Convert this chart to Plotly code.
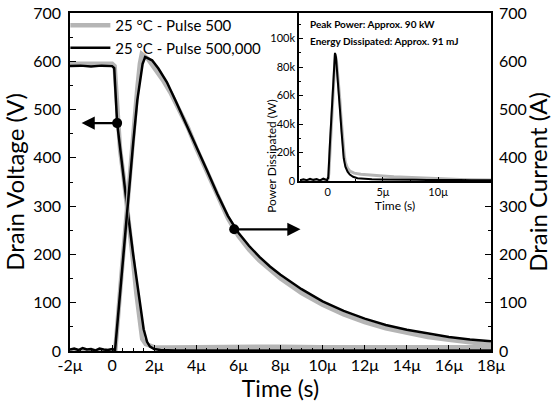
import plotly.graph_objects as go

# ---- main chart data (time in microseconds) ----
# drain voltage, pulse 500 (gray) and pulse 500,000 (black)
t_v500 = [-2.0, -1.0, 0.0, 0.12, 0.2, 0.3, 0.38, 0.55, 0.71, 0.85, 1.0, 1.15, 1.3, 1.43, 1.6, 1.8, 2.0, 2.5, 4, 6, 8, 10, 12, 14, 16, 18]
v_500 = [595, 596, 595, 590, 530, 460, 416, 360, 302, 245, 185, 120, 60, 25, 14, 10, 8, 7, 8, 8, 9, 8, 8, 9, 8, 8]

t_v500k = [-2.0, -1.5, -1.0, -0.5, 0.0, 0.1, 0.24, 0.35, 0.45, 0.71, 1.0, 1.3, 1.5, 1.66, 1.8, 2.0, 2.3, 3, 5, 8, 11, 14, 18]
v_500k = [590, 591, 589, 591, 590, 586, 472, 430, 395, 300, 200, 100, 45, 19, 9, 4, 2, 1, 1, 0, 1, 0, 1]

# drain current
t_i500 = [-2.0, 0.0, 0.15, 0.4, 0.71, 1.0, 1.2, 1.32, 1.41, 1.7, 2.0, 2.4, 2.8, 3.2, 3.6, 4.0, 4.5, 5.0, 5.5, 6.0, 6.5, 7, 8, 9, 10, 11, 12, 13, 14, 15, 16, 17, 18]
i_500 = [0, 0, 0, 135, 300, 450, 545, 595, 615, 605, 588, 562, 533, 500, 463, 420, 370, 320, 275, 238, 210, 187, 150, 120, 96, 76, 60, 47, 37, 29, 23, 18, 13]

t_i500k = [-2.0, -1.8, -1.6, -1.4, -1.2, -1.0, -0.8, -0.6, -0.4, -0.2, 0.0, 0.14, 0.45, 0.71, 1.0, 1.2, 1.35, 1.45, 1.57, 1.9, 2.2, 2.6, 3.0, 3.5, 4.0, 4.5, 5.0, 5.5, 6.0, 6.5, 7.0, 7.5, 8, 9, 10, 11, 12, 13, 14, 15, 16, 17, 18]
i_500k = [3, 5, 2, 6, 3, 4, 1, 5, 3, 2, 4, 2, 155, 290, 430, 520, 570, 595, 609, 602, 585, 557, 520, 472, 425, 375, 325, 280, 245, 218, 195, 175, 158, 128, 103, 83, 67, 54, 44, 36, 29, 24, 20]

# arrow markers: (time, value) of the dot and where the arrow points
arrow_v = dict(t=0.24, val=472, t_to=-1.45)
arrow_i = dict(t=5.8, val=252, t_to=8.95)

x_ticks = [-2, 0, 2, 4, 6, 8, 10, 12, 14, 16, 18]
x_ticktext = ["-2μ", "0", "2μ", "4μ", "6μ", "8μ", "10μ", "12μ", "14μ", "16μ", "18μ"]

# ---- inset data: power dissipated (kW) ----
t_p500 = [-2.5, 0.0, 0.1, 0.2, 0.3, 0.4, 0.5, 0.6, 0.68, 0.8, 0.9, 1.0, 1.1, 1.2, 1.3, 1.4, 1.5, 1.6, 1.8, 2.0, 2.4, 3, 4, 5, 6, 7, 8, 9, 10, 11, 12, 13, 14.8]
p_500 = [0, 0, 5, 20, 36, 52, 70, 85, 89, 84, 76, 67, 57, 45, 34, 25, 18, 13, 9, 7, 5.5, 4.8, 4, 3.5, 3, 2.6, 2.2, 1.9, 1.6, 1.3, 1.1, 0.9, 0.7]

t_p500k = [-2.5, -2.2, -1.9, -1.6, -1.3, -1.0, -0.7, -0.4, -0.1, 0.05, 0.2, 0.3, 0.4, 0.5, 0.6, 0.66, 0.75, 0.85, 0.95, 1.05, 1.15, 1.25, 1.35, 1.45, 1.6, 1.8, 2.0, 2.3, 2.7, 3.2, 4, 5, 6, 7, 8, 9, 10, 11, 12, 13, 14.8]
p_500k = [0.5, 1.2, 0.6, 1.5, 0.8, 1.3, 0.4, 1.6, 0.7, 2, 26, 42, 58, 74, 88, 90, 87, 78, 67, 57, 46, 35, 24, 16, 10, 6.5, 4.5, 3, 2, 1.6, 1.2, 1.0, 1.1, 0.8, 0.9, 0.7, 0.8, 0.6, 0.7, 0.5, 0.5]

inset_xticks = [0, 5, 10]
inset_xtext = ["0", "5μ", "10μ"]
inset_yticks = [0, 20, 40, 60, 80, 100]
inset_ytext = ["0", "20k", "40k", "60k", "80k", "100k"]

GRAY = "#b5b5b5"
FONT = "Lato"

fig = go.Figure()

# voltage (left axis)
fig.add_trace(go.Scatter(x=t_v500, y=v_500, mode="lines", line=dict(color=GRAY, width=4.5),
                         name="25 °C - Pulse 500"))
fig.add_trace(go.Scatter(x=t_v500k, y=v_500k, mode="lines", line=dict(color="black", width=2.5),
                         name="25 °C - Pulse 500,000"))
# current (right axis)
fig.add_trace(go.Scatter(x=t_i500, y=i_500, mode="lines", line=dict(color=GRAY, width=4.5),
                         yaxis="y2", showlegend=False))
fig.add_trace(go.Scatter(x=t_i500k, y=i_500k, mode="lines", line=dict(color="black", width=2.5),
                         yaxis="y2", showlegend=False))

# arrow dots
fig.add_trace(go.Scatter(x=[arrow_v["t"]], y=[arrow_v["val"]], mode="markers",
                         marker=dict(color="black", size=10), showlegend=False))
fig.add_trace(go.Scatter(x=[arrow_i["t"]], y=[arrow_i["val"]], mode="markers", yaxis="y2",
                         marker=dict(color="black", size=10), showlegend=False))

# inset
fig.add_trace(go.Scatter(x=t_p500, y=p_500, mode="lines", line=dict(color=GRAY, width=3),
                         xaxis="x3", yaxis="y3", showlegend=False))
fig.add_trace(go.Scatter(x=t_p500k, y=p_500k, mode="lines", line=dict(color="black", width=2),
                         xaxis="x3", yaxis="y3", showlegend=False))

fig.add_annotation(x=arrow_v["t_to"], y=arrow_v["val"], ax=arrow_v["t"], ay=arrow_v["val"],
                   xref="x", yref="y", axref="x", ayref="y", text="", showarrow=True,
                   arrowhead=2, arrowsize=1.2, arrowwidth=2.2, arrowcolor="black")
fig.add_annotation(x=arrow_i["t_to"], y=arrow_i["val"], ax=arrow_i["t"], ay=arrow_i["val"],
                   xref="x", yref="y2", axref="x", ayref="y2", text="", showarrow=True,
                   arrowhead=2, arrowsize=1.2, arrowwidth=2.2, arrowcolor="black")

fig.add_annotation(x=-1.8, y=110, xref="x3", yref="y3", xanchor="left", showarrow=False,
                   text="<b>Peak Power: Approx. 90 kW</b>", font=dict(size=10, family=FONT, color="black"))
fig.add_annotation(x=-1.8, y=98, xref="x3", yref="y3", xanchor="left", showarrow=False,
                   text="<b>Energy Dissipated: Approx. 91 mJ</b>", font=dict(size=10, family=FONT, color="black"))
# inset y title placed by hand so it sits tight to the tick labels
fig.add_annotation(x=0.477, y=0.75, xref="paper", yref="paper", textangle=-90, showarrow=False,
                   text="Power Dissipated (W)", font=dict(size=12, family=FONT, color="black"))

axis_common = dict(showline=True, linecolor="black", linewidth=1.5, ticks="inside", ticklen=6,
                   tickcolor="black", tickwidth=1.2, showgrid=False, zeroline=False, automargin=False)

fig.update_layout(
    width=552, height=406,
    margin=dict(l=70, r=61, t=13, b=55, autoexpand=False),
    plot_bgcolor="white", paper_bgcolor="white",
    font=dict(family=FONT, size=16, color="black"),
    xaxis=dict(range=[-2, 18], tickvals=x_ticks, ticktext=x_ticktext, mirror=True,
               ticklabelstandoff=-1,
               title=dict(text="Time (s)", font=dict(size=23), standoff=0),
               minor=dict(dtick=0.5, ticks="inside", ticklen=3, tickcolor="black"),
               **axis_common),
    yaxis=dict(range=[0, 700], dtick=100, ticklabelstandoff=4,
               title=dict(text="Drain Voltage (V)", font=dict(size=24), standoff=2),
               minor=dict(dtick=50, ticks="inside", ticklen=3, tickcolor="black"),
               **axis_common),
    yaxis2=dict(range=[0, 700], dtick=100, overlaying="y", side="right", ticklabelstandoff=3,
                title=dict(text="Drain Current (A)", font=dict(size=24), standoff=1),
                minor=dict(dtick=50, ticks="inside", ticklen=3, tickcolor="black"),
                **axis_common),
    xaxis3=dict(domain=[0.544, 1.0], anchor="y3", range=[-2.6, 14.8], tickvals=inset_xticks,
                ticktext=inset_xtext, mirror=True, tickfont=dict(size=11), ticklabelstandoff=0,
                title=dict(text="Time (s)", font=dict(size=12), standoff=0),
                minor=dict(dtick=2.5, ticks="inside", ticklen=2, tickcolor="black"),
                **{**axis_common, "ticklen": 4}),
    yaxis3=dict(domain=[0.503, 1.0], anchor="x3", range=[0, 118], tickvals=inset_yticks,
                ticktext=inset_ytext, mirror=True, tickfont=dict(size=11),
                minor=dict(dtick=10, ticks="inside", ticklen=2, tickcolor="black"),
                **{**axis_common, "ticklen": 4}),
    legend=dict(x=-0.011, y=1.012, xanchor="left", yanchor="top", bgcolor="rgba(0,0,0,0)",
                font=dict(size=15), itemwidth=40, tracegroupgap=0),
    showlegend=True,
)

fig.write_html("out.html", config={"displayModeBar": False},
               post_script="document.body.style.margin='0px';")
